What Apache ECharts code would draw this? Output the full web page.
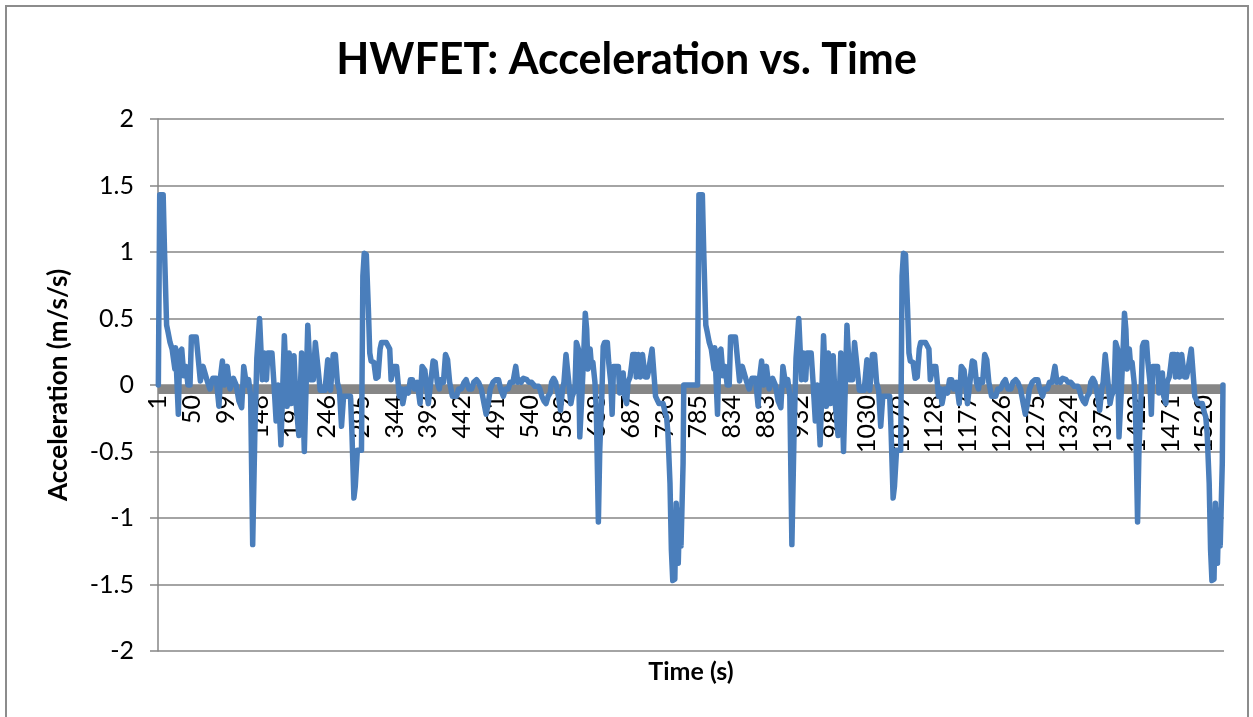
<!DOCTYPE html>
<html>
<head>
<meta charset="utf-8">
<script src="https://cdn.jsdelivr.net/npm/echarts@6/dist/echarts.min.js"></script>
<style>
html,body{margin:0;padding:0;background:#fff;}
#chart{width:1253px;height:717px;position:absolute;left:0;top:0;}
#frame{position:absolute;left:5px;top:5px;width:1240px;height:730px;border:2px solid #8c8c8c;pointer-events:none;}
</style>
</head>
<body>
<div id="chart"></div>
<div id="frame"></div>
<script>
// One HWFET run, second of the run (1..765) and acceleration (m/s/s)
const cycleTime = [1,2,3,8,10,13,15,18,21,25,26,30,32,35,38,41,44,47,49,56,60,62,66,72,76,80,85,89,91,94,97,101,105,110,114,118,122,125,129,132,135,138,141,144,148,152,155,158,160,166,169,172,175,179,184,188,191,194,198,201,205,209,213,218,222,226,229,233,236,240,243,247,251,255,258,261,264,267,270,280,282,285,287,290,296,298,300,303,306,308,310,314,317,320,323,325,332,337,339,343,347,351,354,356,360,364,367,370,373,377,381,384,388,390,393,397,400,403,406,409,411,415,418,421,424,428,434,437,441,445,448,452,456,459,463,466,470,474,477,480,483,487,491,495,498,502,505,509,512,516,520,523,525,528,531,536,539,543,548,553,555,558,561,564,567,570,572,575,578,582,585,588,590,593,595,597,600,602,606,608,611,613,616,619,621,623,625,628,630,632,635,637,640,642,645,647,649,653,655,658,660,662,669,671,674,676,678,681,683,686,688,690,694,695,698,701,704,706,708,711,713,716,718,721,723,725,728,734,737,739,741,744,746,748,751,753,756,758,760,763,764,765];
const cycleAccel = [0,0,1.43,1.43,1.0,0.45,0.40,0.32,0.27,0.12,0.28,-0.22,0.25,0.27,0.07,0.14,0.0,0.0,0.36,0.36,0.14,0.03,0.14,0.03,-0.03,0.05,0.05,-0.16,0.05,0.18,0.0,0.14,-0.03,0.05,0.0,-0.12,-0.17,0.14,0.0,0.04,-0.08,-1.2,-0.4,0.2,0.5,0.04,0.24,0.04,0.24,0.24,0.0,-0.27,0.0,-0.45,0.37,-0.16,0.24,-0.14,0.22,-0.14,-0.38,0.24,-0.5,0.45,0.04,0.04,0.32,0.12,-0.04,-0.04,-0.04,0.19,-0.04,0.23,0.23,0.02,-0.04,-0.31,-0.085,-0.085,-0.34,-0.85,-0.76,-0.49,-0.49,0.82,0.99,0.98,0.57,0.24,0.18,0.17,0.05,0.06,0.27,0.32,0.32,0.27,0.04,0.14,0.14,-0.085,-0.03,-0.14,-0.03,-0.06,0.04,0.04,-0.03,0.02,-0.14,0.14,0.11,0.02,-0.14,0.04,0.18,0.17,0.02,-0.03,0.04,0.02,0.23,0.19,0.02,-0.085,-0.085,-0.03,-0.03,0.02,0.04,-0.03,-0.03,0.02,0.04,0.02,-0.03,-0.14,-0.22,-0.14,-0.03,0.02,0.04,0.04,-0.03,-0.085,-0.03,-0.03,0.02,0.02,0.14,0.02,0.04,0.02,0.05,0.04,0.02,0.02,-0.01,-0.01,-0.03,-0.085,-0.12,-0.14,-0.085,-0.06,0.02,0.05,0.02,-0.085,-0.19,-0.03,0.02,0.23,0.23,0.02,-0.14,-0.085,-0.03,0.32,0.27,-0.39,-0.085,0.27,0.54,0.42,0.12,0.27,0.14,0.17,0.02,-0.19,-1.03,-0.49,-0.085,0.29,0.32,0.32,0.17,0.02,-0.22,0.14,0.14,-0.06,0.04,0.09,-0.085,-0.14,0.02,0.06,0.14,0.23,0.23,0.06,0.23,0.06,0.23,0.23,0.06,0.06,0.11,0.21,0.27,0.06,-0.085,-0.085,-0.14,-0.14,-0.21,-0.24,-0.36,-0.74,-1.24,-1.47,-1.46,-0.89,-1.34,-0.94,-1.21,-0.59,0,0];
// The run appears twice; the second run begins 783 s after the first
const runOffsets = [0, 783];
const totalSeconds = 1548;
const timeLabels = Array.from({length: totalSeconds}, (_, i) => String(i + 1));
const yMin = -2, yMax = 2, yStep = 0.5;

const seriesData = [];
runOffsets.forEach(off => {
  cycleTime.forEach((t, i) => seriesData.push([off + t - 1, cycleAccel[i]]));
});

const FONT = 'Lato';
const GRID_TOP = 119, GRID_BOTTOM = 66, H = 717;
const plotH = H - GRID_TOP - GRID_BOTTOM;
// put the category axis where value 0 sits (middle of the symmetric -2..2 range)
const zeroOffset = -plotH * (0 - yMin) / (yMax - yMin);

const chart = echarts.init(document.getElementById('chart'), null, {renderer: 'canvas'});
chart.setOption({
  animation: false,
  backgroundColor: '#ffffff',
  title: {
    text: 'HWFET: Acceleration vs. Time',
    left: 'center',
    top: 34,
    textStyle: {fontFamily: FONT, fontWeight: 'bold', fontSize: 43, color: '#000'}
  },
  grid: {left: 158, right: 29, top: GRID_TOP, bottom: GRID_BOTTOM, containLabel: false, outerBoundsMode: 'none'},
  xAxis: {
    type: 'category',
    data: timeLabels,
    boundaryGap: true,
    position: 'bottom',
    offset: zeroOffset,
    name: 'Time (s)',
    nameLocation: 'middle',
    nameGap: 274,
    nameTextStyle: {fontFamily: FONT, fontWeight: 'bold', fontSize: 25, color: '#000'},
    axisLine: {show: true, onZero: false, lineStyle: {opacity: 0}},
    axisTick: {show: false},
    axisLabel: {interval: 48, rotate: 90, margin: 10, fontFamily: FONT, fontSize: 25, color: '#000'},
    splitLine: {show: false}
  },
  yAxis: {
    type: 'value',
    min: yMin, max: yMax, interval: yStep,
    name: 'Acceleration (m/s/s)',
    nameLocation: 'middle',
    nameRotate: 90,
    nameGap: 86,
    nameTextStyle: {fontFamily: FONT, fontWeight: 'bold', fontSize: 26, color: '#000'},
    axisLine: {show: true, lineStyle: {color: '#868686', width: 1.5}},
    axisTick: {show: true, inside: false, length: 8, lineStyle: {color: '#868686', width: 1.5}},
    axisLabel: {margin: 24, fontFamily: FONT, fontSize: 25, color: '#000'},
    splitLine: {show: true, lineStyle: {color: '#868686', width: 1.5}}
  },
  series: [{
    type: 'line',
    data: seriesData,
    showSymbol: false,
    symbol: 'none',
    sampling: null,
    lineStyle: {color: '#4A7EBB', width: 5.5, cap: 'round', join: 'round'},
    emphasis: {disabled: true},
    z: 3,
    markLine: {
      silent: true,
      z: 1,
      symbol: ['none', 'none'],
      label: {show: false},
      emphasis: {disabled: true},
      lineStyle: {color: '#868686', width: 9, type: 'solid'},
      data: [{yAxis: -0.025}]
    }
  }]
});
</script>
</body>
</html>
